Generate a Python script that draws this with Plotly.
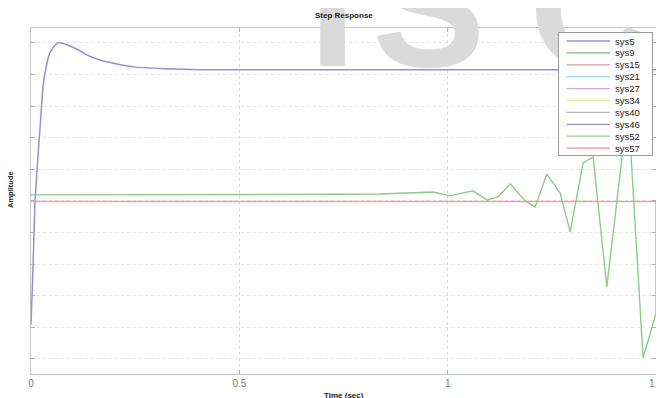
import plotly.graph_objects as go

# ---------------- data ----------------
blue_t = [0, 0.0048, 0.0096, 0.0144, 0.0216, 0.0288, 0.0336, 0.0456, 0.0648, 0.0864,
          0.1176, 0.134, 0.1656, 0.182, 0.245, 0.326, 0.406, 0.6, 0.8, 1.0, 1.2, 1.5]
blue_v = [1.08, 2.9, 4.94, 5.98, 7.3, 8.6, 9.05, 9.7, 10.0, 9.94,
          9.75, 9.62, 9.46, 9.4, 9.24, 9.18, 9.15, 9.15, 9.15, 9.15, 9.15, 9.15]

green_t = [0, 0.3, 0.6, 0.75, 0.8376, 0.9335, 0.965, 1.0055, 1.061, 1.094, 1.121, 1.150,
           1.186, 1.210, 1.238, 1.270, 1.294, 1.325, 1.349, 1.382, 1.433, 1.469, 1.5, 1.5]
green_v = [5.19, 5.19, 5.2, 5.21, 5.22, 5.25, 5.28, 5.16, 5.32, 5.03, 5.13, 5.54,
           5.00, 4.81, 5.85, 5.25, 4.02, 6.20, 6.39, 2.28, 8.0, 0.03, 1.45, 5.0]

red_t = [0, 1.5]
red_v = [4.98, 4.98]

legend_names = ["sys5", "sys9", "sys15", "sys21", "sys27", "sys34", "sys40", "sys46", "sys52", "sys57"]
legend_colors = ["#9494d8", "#78bc78", "#d49a9a", "#9adcdc", "#dca6dc", "#e8e8a4",
                 "#b4b4b4", "#9494d8", "#94d094", "#e49a9a"]

x_ticks = [0, 0.5, 1, 1.5]
x_ticktext = ["0", "0.5", "1", "1.5"]
y_ticks = list(range(0, 11))

# ---------------- figure ----------------
# the page body has an 8px default margin, so the figure is sized/margined to compensate
OFF = 8
W, H = 664 - OFF, 398 - OFF
PL, PR, PT, PB = 31, 656, 28, 374          # plot area in page pixels
L, R, T, B = PL - OFF, W + OFF - PR, PT - OFF, H + OFF - PB


def px_x(p):
    return (p - PL) / (PR - PL)


def px_y(p):
    return (PB - p) / (PB - PT)


fig = go.Figure()
fig.add_trace(go.Scatter(x=blue_t, y=blue_v, mode="lines", name="sys5",
                         line=dict(color="#9090d6", width=1.5, shape="spline", smoothing=0.6),
                         showlegend=False))
fig.add_trace(go.Scatter(x=red_t, y=red_v, mode="lines", name="sys15",
                         line=dict(color="#eaa0a8", width=1.4), showlegend=False))
fig.add_trace(go.Scatter(x=green_t, y=green_v, mode="lines", name="sys9",
                         line=dict(color="#8ccb8c", width=1.4), showlegend=False))

ann = []
# watermark letters (partially visible at the top)
wm_font = dict(family="Liberation Sans, Arial, sans-serif", size=170, color="#dadada")
for ch, xc in [("I", 332), ("S", 428), ("C", 590)]:
    ann.append(dict(text="<b>%s</b>" % ch, x=px_x(xc), y=px_y(104), xref="paper", yref="paper",
                    xanchor="center", yanchor="bottom", showarrow=False, font=wm_font))

# title
ann.append(dict(text="<b>Step Response</b>", x=0.5, y=px_y(16), xref="paper", yref="paper",
                xanchor="center", yanchor="middle", showarrow=False,
                font=dict(family="Liberation Sans, Arial", size=8, color="#222")))
# axis titles
ann.append(dict(text="<b>Time (sec)</b>", x=0.5, y=px_y(395), xref="paper", yref="paper",
                xanchor="center", yanchor="middle", showarrow=False,
                font=dict(family="Liberation Sans, Arial", size=8, color="#222")))
ann.append(dict(text="<b>Amplitude</b>", x=px_x(10), y=px_y(190), xref="paper", yref="paper",
                xanchor="center", yanchor="middle", showarrow=False, textangle=-90,
                font=dict(family="Liberation Sans, Arial", size=7.5, color="#222")))

# manual legend (box, samples, names)
ann.append(dict(text=" ", x=px_x(605.5), y=px_y(94), xref="paper", yref="paper",
                xanchor="center", yanchor="middle", showarrow=False,
                width=93, height=122, borderpad=0, borderwidth=1,
                bordercolor="#9a9a9a", bgcolor="white"))
for i, (nm, col) in enumerate(zip(legend_names, legend_colors)):
    ey = 41 + i * 11.9
    ann.append(dict(text="", x=px_x(610), y=px_y(ey), xref="paper", yref="paper",
                    showarrow=True, ax=-45, ay=0, arrowhead=0, arrowwidth=1.3,
                    arrowcolor=col, standoff=0, startstandoff=0))
    ann.append(dict(text=nm, x=px_x(613), y=px_y(ey), xref="paper", yref="paper",
                    xanchor="left", yanchor="middle", showarrow=False,
                    font=dict(family="Liberation Sans, Arial", size=9.5, color="#222")))

fig.update_layout(
    width=W, height=H,
    margin=dict(l=L, r=R, t=T, b=B, autoexpand=False),
    paper_bgcolor="white", plot_bgcolor="white",
    showlegend=False,
    annotations=ann,
    xaxis=dict(range=[0, 1.5], tickvals=x_ticks, ticktext=x_ticktext,
               showgrid=True, gridcolor="#d8d8d8", griddash="dot", gridwidth=1,
               zeroline=False, showline=True, linecolor="#c4c4c4", linewidth=1, mirror="ticks",
               ticks="inside", ticklen=4, tickcolor="#b0b0b0", automargin=False,
               tickfont=dict(family="Liberation Sans, Arial", size=10, color="#7a7a7a")),
    yaxis=dict(range=[-0.475, 10.47], tickvals=y_ticks, showticklabels=False,
               showgrid=True, gridcolor="#e4e4e4", griddash="dot", gridwidth=1,
               zeroline=False, showline=True, linecolor="#c4c4c4", linewidth=1, mirror="ticks",
               ticks="inside", ticklen=4, tickcolor="#b0b0b0", automargin=False),
)

fig.write_html("out.html")
